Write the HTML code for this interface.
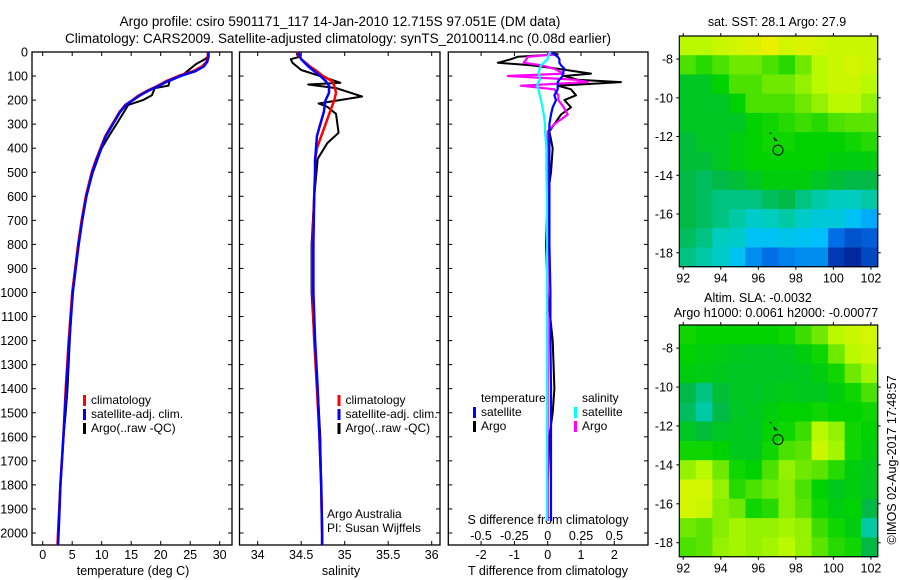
<!DOCTYPE html>
<html><head><meta charset="utf-8"><style>
body{margin:0;background:#fff;}
svg{display:block;font-family:"Liberation Sans",sans-serif;}
text{fill:#000;}
</style></head><body>
<svg id="fig" width="900" height="580" viewBox="0 0 900 580" xmlns="http://www.w3.org/2000/svg">
<rect width="900" height="580" fill="#fff"/>
<text x="340" y="26" font-size="13.5" text-anchor="middle">Argo profile: csiro 5901171_117 14-Jan-2010 12.715S 97.051E (DM data)</text>
<text x="338" y="43" font-size="13.5" text-anchor="middle">Climatology: CARS2009. Satellite-adjusted climatology: synTS_20100114.nc (0.08d earlier)</text>
<g id="g"></g>
</svg>
<script>
// ---------- data ----------
const tDepth=[0,20,40,60,80,100,120,140,160,180,200,220,250,300,350,400,450,500,600,700,800,900,1000,1200,1400,1600,1800,2000,2050];
const tClim=[28.0,28.0,27.8,27.0,25.5,23.0,21.0,19.5,17.8,16.3,15.2,14.0,13.0,11.8,10.6,9.8,9.0,8.3,7.3,6.6,6.0,5.5,5.0,4.4,3.9,3.5,3.0,2.6,2.5];
const tSat=[28.1,28.1,27.9,27.3,25.9,23.3,21.3,19.7,18.0,16.5,15.3,14.1,13.1,11.9,10.7,9.9,9.1,8.4,7.4,6.7,6.1,5.6,5.1,4.5,4.0,3.5,3.0,2.7,2.6];
const aDepth=[0,20,30,50,80,100,120,140,150,180,200,220,260,300,350,400,500,600,800,1000,1200,1400,1500,1600,1800,1950];
const tArgo=[28.0,28.0,27.5,26.0,24.5,23.5,21.5,21.3,19.0,18.5,17.0,14.5,13.5,12.5,11.2,10.0,8.5,7.4,6.0,5.0,4.6,4.2,3.9,3.5,3.0,2.8];
const sDepth=[0,30,60,80,100,120,140,170,200,250,300,350,400,450,500,600,800,1000,1200,1400,1600,1800,2000,2050];
const sClim=[34.45,34.5,34.6,34.68,34.75,34.85,34.88,34.9,34.88,34.83,34.78,34.73,34.68,34.66,34.66,34.65,34.63,34.63,34.65,34.68,34.71,34.73,34.74,34.74];
const sSat=[34.47,34.5,34.58,34.65,34.72,34.78,34.82,34.82,34.78,34.76,34.72,34.68,34.67,34.66,34.66,34.65,34.64,34.64,34.66,34.69,34.71,34.73,34.74,34.74];
const saDepth=[0,10,20,30,45,75,113,128,135,150,185,214,228,257,336,379,444,523,600,800,1000,1200,1400,1600,1800,1950];
const sArgo=[34.45,34.45,34.48,34.38,34.4,34.5,34.83,34.95,34.58,34.9,35.2,34.7,34.8,34.9,34.93,34.8,34.69,34.67,34.65,34.62,34.62,34.65,34.69,34.72,34.73,34.74];
const dDepth=[0,10,20,30,45,55,70,90,100,115,125,140,155,180,200,230,260,300,330,400,500,600,800,1000,1200,1400,1500,1600,1800,1950];
const dTSat=[0.1,0.2,0.3,0.35,0.35,0.4,0.5,0.45,0.45,0.35,0.3,0.3,0.3,0.2,0.25,0.15,0.1,0.05,0.05,0.05,0.05,0.05,0.05,0.08,0.08,0.1,0.1,0.1,0.1,0.1];
const dTArgo=[0.0,0.3,-0.9,-1.1,-1.5,-0.5,0.3,1.3,0.5,0.9,2.2,0.3,0.7,0.85,0.5,0.7,0.4,0.2,0.05,0.15,0.1,0.0,-0.05,0.0,0.15,0.2,0.15,0.05,0.0,0.0];
const dSSat=[0.02,0.01,0.0,0.0,-0.03,-0.05,-0.06,-0.07,-0.06,-0.06,-0.07,-0.08,-0.07,-0.06,-0.05,-0.04,-0.03,-0.02,-0.02,-0.01,-0.01,-0.005,-0.005,-0.005,-0.005,-0.005,-0.005,-0.005,-0.005,-0.005];
const dSArgo=[0.0,0.05,-0.15,-0.16,-0.18,-0.05,0.05,0.12,-0.3,0.2,0.3,-0.2,0.05,0.08,0.08,0.12,0.15,0.05,0.0,0.0,0.0,0.0,0.0,0.0,0.0,0.0,0.0,0.0,0.0,0.0];
const depthTicks=[0,100,200,300,400,500,600,700,800,900,1000,1100,1200,1300,1400,1500,1600,1700,1800,1900,2000];
const tempTicks=[0,5,10,15,20,25,30];
const salTicks=[34,34.5,35,35.5,36];
const tdTicks=[-2,-1,0,1,2];
const sdTicks=[-0.5,-0.25,0,0.25,0.5];
const sdTickLabels=["-0.5","-0.25","0","0.25","0.5"];
const latTicks=[-8,-10,-12,-14,-16,-18];
const lonTicks=[92,94,96,98,100,102];
const sstGrid=[
[0.85,0.85,0.88,0.9,0.92,0.95,0.9,0.92,0.9,0.88,0.88,0.88],
[0.7,0.65,0.7,0.75,0.75,0.7,0.65,0.75,0.85,0.88,0.9,0.88],
[0.55,0.55,0.6,0.7,0.7,0.75,0.75,0.8,0.85,0.88,0.88,0.85],
[0.55,0.55,0.55,0.6,0.7,0.7,0.7,0.75,0.8,0.85,0.85,0.8],
[0.55,0.55,0.55,0.55,0.6,0.62,0.65,0.68,0.65,0.7,0.72,0.72],
[0.52,0.55,0.55,0.58,0.6,0.62,0.62,0.6,0.6,0.6,0.62,0.65],
[0.52,0.52,0.55,0.58,0.6,0.6,0.6,0.6,0.6,0.58,0.58,0.58],
[0.5,0.48,0.5,0.52,0.55,0.58,0.58,0.58,0.55,0.52,0.5,0.5],
[0.5,0.48,0.45,0.45,0.45,0.48,0.5,0.45,0.42,0.4,0.4,0.42],
[0.5,0.48,0.45,0.42,0.38,0.4,0.42,0.38,0.35,0.35,0.3,0.25],
[0.48,0.45,0.4,0.38,0.3,0.3,0.32,0.3,0.28,0.15,0.1,0.12],
[0.45,0.42,0.38,0.3,0.2,0.15,0.18,0.2,0.2,0.05,0.02,0.08]];
const slaGrid=[
[0.62,0.6,0.6,0.6,0.6,0.6,0.62,0.68,0.75,0.85,0.88,0.9],
[0.6,0.58,0.57,0.56,0.55,0.55,0.56,0.58,0.62,0.75,0.85,0.88],
[0.58,0.57,0.56,0.55,0.55,0.55,0.55,0.56,0.58,0.62,0.75,0.82],
[0.5,0.45,0.52,0.55,0.55,0.56,0.57,0.56,0.56,0.58,0.62,0.7],
[0.48,0.42,0.5,0.55,0.56,0.58,0.6,0.6,0.62,0.6,0.6,0.62],
[0.55,0.52,0.55,0.56,0.55,0.6,0.62,0.68,0.85,0.8,0.62,0.6],
[0.62,0.62,0.6,0.56,0.56,0.62,0.7,0.72,0.88,0.82,0.62,0.58],
[0.8,0.85,0.75,0.62,0.6,0.7,0.8,0.75,0.72,0.65,0.58,0.56],
[0.9,0.9,0.8,0.65,0.7,0.75,0.78,0.7,0.6,0.56,0.58,0.55],
[0.9,0.88,0.78,0.75,0.62,0.65,0.78,0.72,0.62,0.58,0.6,0.5],
[0.75,0.72,0.78,0.82,0.8,0.8,0.82,0.8,0.68,0.62,0.58,0.42],
[0.7,0.72,0.8,0.82,0.8,0.82,0.85,0.8,0.72,0.65,0.62,0.5]];
const floatLon=97.05, floatLat=-12.7;

// ---------- helpers ----------
const NS="http://www.w3.org/2000/svg";
const G=document.getElementById('g');
function mk(tag,attrs,parent){const e=document.createElementNS(NS,tag);for(const k in attrs)e.setAttribute(k,attrs[k]);(parent||G).appendChild(e);return e;}
function txt(s,x,y,size,anchor,parent){const e=mk('text',{x:x,y:y,'font-size':size,'text-anchor':anchor||'middle'},parent);e.textContent=s;return e;}
const PT=52, PB=545;
const yD=d=>PT+d*0.2405;
const xT=t=>42.7+t*5.9;
const xS=s=>257.7+(s-34)*87;
const xTd=v=>547.7+v*33.3;
const xSd=v=>547.7+v*133.3;

function panel(name,x0,x1){
  const f=mk('rect',{x:x0,y:PT,width:x1-x0,height:PB-PT,fill:'none',stroke:'#000','stroke-width':1.3});
  
  
  depthTicks.forEach(d=>{
    const t=mk('line',{x1:x0,x2:x0+4,y1:yD(d),y2:yD(d),stroke:'#000'});
    
    
    const t2=mk('line',{x1:x1-4,x2:x1,y1:yD(d),y2:yD(d),stroke:'#000'});
    
    
  });
}
function xticks(name,vals,labels,fx,ly){
  vals.forEach((v,i)=>{
    const a=mk('line',{x1:fx(v),x2:fx(v),y1:PB,y2:PB-4,stroke:'#000'});
    
    
    const b=mk('line',{x1:fx(v),x2:fx(v),y1:PT,y2:PT+4,stroke:'#000'});
    
    
    if(ly){const l=txt(labels[i],fx(v),ly,12.5);
    
    }
  });
}
function line(name,ds,vs,fx,color,w){
  const pts=ds.map((d,i)=>fx(vs[i]).toFixed(1)+','+yD(d).toFixed(1)).join(' ');
  const p=mk('polyline',{points:pts,fill:'none',stroke:color,'stroke-width':w,'stroke-linejoin':'round'});
  
  
}
function legItem(name,x,y,color,label){
  const r=mk('rect',{x:x,y:y-9,width:3,height:11,fill:color});
  
  
  const t=txt(label,x+8,y,12,'start');
  
  
}

// depth labels
depthTicks.forEach(d=>{const l=txt(String(d),28,yD(d)+4.5,12.5,'end');

});

// temperature panel
panel('temperature-panel',32,232);
xticks('temperature-axis',tempTicks,tempTicks.map(String),xT,559);
let lb=txt('temperature (deg C)',133,575,12.5);

line('temperature-argo-line',aDepth,tArgo,xT,'#000',2);
line('temperature-climatology-line',tDepth,tClim,xT,'#f00',2.5);
line('temperature-satellite-line',tDepth,tSat,xT,'#00f',2.5);
legItem('temp-legend-climatology',83,404,'#f00','climatology');
legItem('temp-legend-satellite',83,418,'#00f','satellite-adj. clim.');
legItem('temp-legend-argo',83,432,'#000','Argo(..raw -QC)');

// salinity panel
panel('salinity-panel',239.5,440);
xticks('salinity-axis',salTicks,salTicks.map(String),xS,559);
lb=txt('salinity',341,575,12.5);

line('salinity-argo-line',saDepth,sArgo,xS,'#000',2);
line('salinity-climatology-line',sDepth,sClim,xS,'#f00',2.5);
line('salinity-satellite-line',sDepth,sSat,xS,'#00f',2.5);
legItem('sal-legend-climatology',337.5,404,'#f00','climatology');
legItem('sal-legend-satellite',337.5,418,'#00f','satellite-adj. clim.');
legItem('sal-legend-argo',337.5,432,'#000','Argo(..raw -QC)');
lb=txt('Argo Australia',327,518,12,'start');

lb=txt('PI: Susan Wijffels',327,532,12,'start');


// difference panel
panel('difference-panel',448.3,648);
xticks('t-difference-axis',tdTicks,tdTicks.map(String),xTd,559);
sdTicks.forEach((v,i)=>{const l=txt(sdTickLabels[i],xSd(v),540,12.5);

});
lb=txt('S difference from climatology',548,524,12.5);

lb=txt('T difference from climatology',548,575,12.5);

line('t-diff-argo-line',dDepth,dTArgo,xTd,'#000',2);
line('s-diff-argo-line',dDepth,dSArgo,xSd,'#f0f',2.2);
line('t-diff-satellite-line',dDepth,dTSat,xTd,'#00f',2.2);
line('s-diff-satellite-line',dDepth,dSSat,xSd,'#0ff',2.2);
lb=txt('temperature',481,402,12,'start');

lb=txt('salinity',582,402,12,'start');

legItem('diff-legend-t-satellite',473,416,'#00f','satellite');
legItem('diff-legend-t-argo',473,430,'#000','Argo');
legItem('diff-legend-s-satellite',574,416,'#0ff','satellite');
legItem('diff-legend-s-argo',574,430,'#f0f','Argo');

// ---------- maps ----------
const stops=[[0,[0,30,150]],[0.15,[0,110,230]],[0.28,[0,190,255]],[0.4,[0,205,190]],[0.5,[0,185,70]],[0.6,[0,210,0]],[0.72,[90,228,0]],[0.85,[185,250,0]],[0.95,[235,240,0]],[1,[255,190,0]]];
function cmap(v){for(let i=1;i<stops.length;i++){if(v<=stops[i][0]){const a=stops[i-1],b=stops[i];const f=(v-a[0])/(b[0]-a[0]);const c=a[1].map((q,k)=>Math.round(q+(b[1][k]-q)*f));return 'rgb('+c.join(',')+')';}}return 'rgb(255,190,0)';}
function map(name,grid,top,bottom){
  const left=679.3,right=877.7,lon0=91.79,lon1=102.36,lat0=-6.81,lat1=-18.72;
  const fx=l=>left+(l-lon0)/(lon1-lon0)*(right-left);
  const fy=l=>top+(l-lat0)/(lat1-lat0)*(bottom-top);
  const nr=grid.length,nc=grid[0].length,cw=(right-left)/nc,ch=(bottom-top)/nr;
  grid.forEach((row,r)=>row.forEach((v,c)=>{
    const e=mk('rect',{x:(left+c*cw).toFixed(2),y:(top+r*ch).toFixed(2),width:(cw+0.6).toFixed(2),height:(ch+0.6).toFixed(2),fill:cmap(v)});
    
    
  }));
  const f=mk('rect',{x:left,y:top,width:right-left,height:bottom-top,fill:'none',stroke:'#000','stroke-width':1.2});
  
  latTicks.forEach(l=>{
    const t=mk('line',{x1:left,x2:left-3,y1:fy(l),y2:fy(l),stroke:'#000'});
    
    const t2=mk('line',{x1:right,x2:right+3,y1:fy(l),y2:fy(l),stroke:'#000'});
    
    const s=txt(String(l),673,fy(l)+4.5,12.5,'end');
    
  });
  lonTicks.forEach(l=>{
    const t=mk('line',{x1:fx(l),x2:fx(l),y1:bottom,y2:bottom+3,stroke:'#000'});
    
    const t2=mk('line',{x1:fx(l),x2:fx(l),y1:top,y2:top-3,stroke:'#000'});
    
    const s=txt(String(l),fx(l),bottom+16,12.5);
    
  });
  const c=mk('circle',{cx:fx(floatLon),cy:fy(floatLat),r:5,fill:'none',stroke:'#000','stroke-width':1});
  
  const m1=mk('rect',{x:fx(96.6),y:fy(-11.8),width:2,height:1,fill:'#000'});
  
  const m2=mk('path',{d:'M'+fx(96.83)+' '+fy(-12.05)+' l1 3 l2 0 z',fill:'none',stroke:'#000','stroke-width':0.8});
  
}
map('sst-map',sstGrid,36,266.7);
map('sla-map',slaGrid,325,556.7);
lb=txt('sat. SST: 28.1 Argo: 27.9',777,26,12.5);

lb=txt('Altim. SLA: -0.0032',758,302,12.5);

lb=txt('Argo h1000: 0.0061 h2000: -0.00077',776,317,12.5);

lb=txt('©IMOS 02-Aug-2017 17:48:57',0,0,12.5);
lb.setAttribute('transform','translate(896,460) rotate(-90)');

</script>
</body></html>
